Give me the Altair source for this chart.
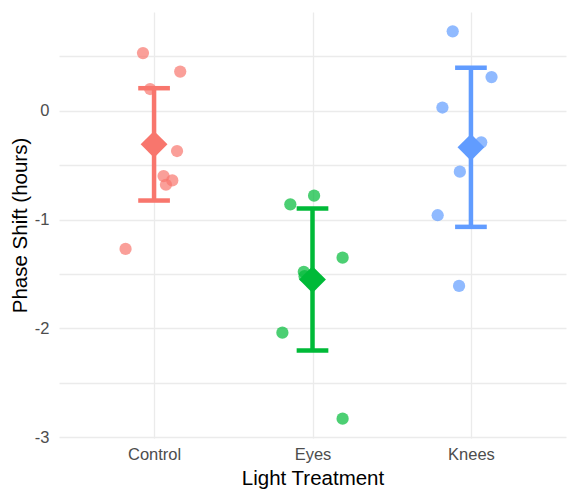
import altair as alt
import pandas as pd
import numpy as np

groups = ["Control", "Eyes", "Knees"]
colors = ["#F8766D", "#00BA38", "#619CFF"]

control_vals = [0.53, 0.36, 0.20, -0.37, -0.60, -0.64, -0.68, -1.27]
control_jit = [-0.07, 0.165, -0.025, 0.145, 0.06, 0.115, 0.075, -0.18]
eyes_vals = [-0.78, -0.86, -1.35, -1.48, -1.52, -2.04, -2.83]
eyes_jit = [0.01, -0.14, 0.19, -0.055, -0.05, -0.19, 0.19]
knees_vals = [0.73, 0.31, 0.03, -0.29, -0.56, -0.96, -1.61]
knees_jit = [-0.115, 0.13, -0.18, 0.065, -0.07, -0.21, -0.075]

# 97.5% t quantiles for df = n-1
t_q = {7: 2.3646, 6: 2.4469}

vals = [control_vals, eyes_vals, knees_vals]
jits = [control_jit, eyes_jit, knees_jit]

rows = []
summ = []
for i, (g, v, j) in enumerate(zip(groups, vals, jits)):
    for yv, jv in zip(v, j):
        rows.append({"group": g, "x": i + 1 + jv, "y": yv})
    a = np.array(v)
    m = a.mean()
    se = a.std(ddof=1) / np.sqrt(len(a))
    h = t_q[len(a) - 1] * se
    summ.append({"group": g, "x": i + 1, "mean": m, "lo": m - h, "hi": m + h,
                 "xl": i + 1 - 0.1, "xr": i + 1 + 0.1})

pts = pd.DataFrame(rows)
sm = pd.DataFrame(summ)

color = alt.Color("group:N", scale=alt.Scale(domain=groups, range=colors), legend=None)
xscale = alt.Scale(domain=[0.4, 3.6], nice=False, zero=False)
yscale = alt.Scale(domain=[-3.008, 0.908], nice=False, zero=False)

xax = alt.Axis(values=[1, 2, 3],
               labelExpr="datum.value == 1 ? 'Control' : datum.value == 2 ? 'Eyes' : 'Knees'",
               title="Light Treatment", grid=True, gridColor="#EBEBEB", gridWidth=1.3,
               domain=False, ticks=False, labelColor="#4D4D4D", labelFontSize=16.5,
               labelFont="Liberation Sans", titleFont="Liberation Sans", titleFontSize=20.5,
               titleFontWeight="normal", titleColor="#000000", labelPadding=8, titlePadding=6)
yax = alt.Axis(values=[-3, -2.5, -2, -1.5, -1, -0.5, 0, 0.5],
               labelExpr="datum.value % 1 == 0 ? '' + datum.value : ''",
               title="Phase Shift (hours)", grid=True, gridColor="#EBEBEB", gridWidth=1.3,
               domain=False, ticks=False, labelColor="#4D4D4D", labelFontSize=16.5,
               labelFont="Liberation Sans", titleFont="Liberation Sans", titleFontSize=20.5,
               titleFontWeight="normal", titleColor="#000000", labelPadding=10, titlePadding=4)

points = alt.Chart(pts).mark_circle(size=150, opacity=0.7).encode(
    x=alt.X("x:Q", scale=xscale, axis=xax),
    y=alt.Y("y:Q", scale=yscale, axis=yax),
    color=color,
)

vline = alt.Chart(sm).mark_rule(strokeWidth=4.5).encode(
    x="x:Q", y="lo:Q", y2="hi:Q", color=color)
cap_lo = alt.Chart(sm).mark_rule(strokeWidth=4.5).encode(
    x="xl:Q", x2="xr:Q", y="lo:Q", color=color)
cap_hi = alt.Chart(sm).mark_rule(strokeWidth=4.5).encode(
    x="xl:Q", x2="xr:Q", y="hi:Q", color=color)
mean_pt = alt.Chart(sm).mark_point(shape="diamond", filled=True, size=720, opacity=1).encode(
    x="x:Q", y="mean:Q", color=color)

chart = alt.layer(points, vline, cap_lo, cap_hi, mean_pt).properties(
    width=507, height=426, padding={"left": 2, "top": 4, "right": 2, "bottom": 2}
).configure_view(stroke=None).configure_axis(gridColor="#EBEBEB")

chart.save("out.html", embed_options={"renderer": "svg", "actions": False})
